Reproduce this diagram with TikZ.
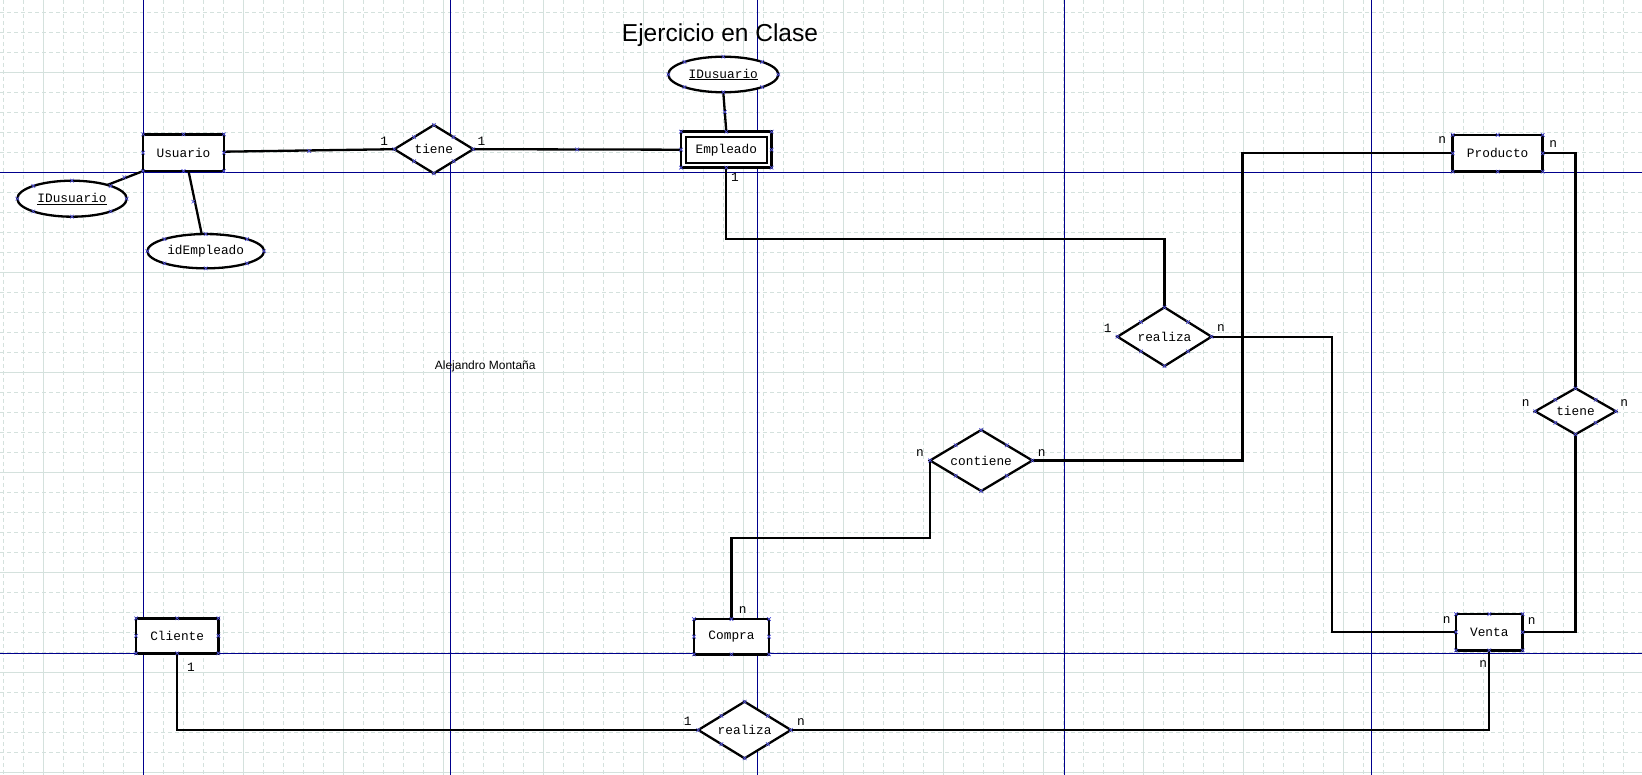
\documentclass[tikz,border=0pt]{standalone}
\usepackage{fontspec}
\setmainfont{Liberation Sans}
\newfontfamily\monof{Liberation Mono}
\usetikzlibrary{shapes.geometric,calc}
\definecolor{gridc}{RGB}{212,225,221}
\definecolor{pagec}{RGB}{0,0,140}
\definecolor{xc}{RGB}{80,80,215}
\newcommand\xmk[1]{\draw[xm] (#1) ++(-1.8,-1.8) -- ++(3.6,3.6) ++(-3.6,0) -- ++(3.6,-3.6);}
\begin{document}
\begin{tikzpicture}[x=1pt,y=-1pt,
  base/.style={font=\monof\fontsize{12.8}{14}\selectfont, inner sep=0pt, outer sep=0pt, text=black},
  ent/.style={base, draw, line width=2.5pt, rectangle, fill=white},
  attr/.style={base, draw, line width=2.3pt, ellipse, fill=white},
  rel/.style={base, draw, line width=2.3pt, diamond, fill=white},
  conn/.style={line width=2.3pt, line join=miter},
  card/.style={base},
  xm/.style={draw=xc, line width=0.7pt}]
\fill[white] (0,0) rectangle (1642,775);
\useasboundingbox (0,0) rectangle (1642,775);
% grid
\foreach \k in {0,...,82} \draw[gridc, line width=0.9pt, dash pattern=on 4pt off 3pt] ({3.3+20*\k},0) -- ({3.3+20*\k},775);
\foreach \k in {0,...,38} \draw[gridc, line width=0.9pt, dash pattern=on 4pt off 3pt] (0,{12.3+20*\k}) -- (1642,{12.3+20*\k});
\foreach \k in {0,...,15} \draw[gridc, line width=1pt] ({43.3+100*\k},0) -- ({43.3+100*\k},775);
\foreach \k in {0,...,7} \draw[gridc, line width=1pt] (0,{72.3+100*\k}) -- (1642,{72.3+100*\k});
% page breaks
\foreach \x in {143.3,450.3,757.3,1064.3,1371.3} \draw[pagec, line width=1pt] (\x,0) -- (\x,775);
\foreach \y in {172.3,653.8} \draw[pagec, line width=1pt] (0,\y) -- (1642,\y);

% texts
\node[anchor=base, font=\fontsize{24.5}{28}\selectfont] (title) at (720,41.7) {Ejercicio en Clase};
\node[anchor=base, font=\fontsize{12}{14}\selectfont] (author) at (485.2,370) {Alejandro Montaña};

% shapes
\node[ent, minimum width=80.7pt, minimum height=36.7pt] (usuario) at (183.5,152.7) {Usuario};
\node[attr, minimum width=109.4pt, minimum height=36pt] (idu1) at (72,198.7) {\underline{IDusuario}};
\node[attr, minimum width=116.7pt, minimum height=34.3pt] (idemp) at (205.7,251.2) {idEmpleado};
\node[rel, minimum width=79pt, minimum height=48.3pt, aspect=1.64] (tiene1) at (433.8,149.2) {tiene};
\node[ent, minimum width=90.7pt, minimum height=36pt] (empleado) at (726.3,149.7) {Empleado};
\draw[line width=2.3pt] ([xshift=4.7pt,yshift=-5pt]empleado.north west) rectangle ([xshift=-5pt,yshift=5pt]empleado.south east);
\node[attr, minimum width=110pt, minimum height=35.6pt] (idu2) at (723.3,74.5) {\underline{IDusuario}};
\node[rel, minimum width=94pt, minimum height=58.7pt, aspect=1.6] (realiza1) at (1164.5,336.7) {realiza};
\node[ent, minimum width=90pt, minimum height=36.7pt] (producto) at (1497.7,153.3) {Producto};
\node[rel, minimum width=80.7pt, minimum height=46pt, aspect=1.75] (tiene2) at (1575.5,411.3) {tiene};
\node[rel, minimum width=102.3pt, minimum height=61pt, aspect=1.68] (contiene) at (981.2,460.5) {contiene};
\node[ent, minimum width=75pt, minimum height=35.3pt] (compra) at (731.5,636.7) {Compra};
\node[ent, minimum width=66.7pt, minimum height=36.3pt] (venta) at (1489.3,632.2) {Venta};
\node[ent, minimum width=82.3pt, minimum height=35pt] (cliente) at (177.2,635.8) {Cliente};
\node[rel, minimum width=92.7pt, minimum height=56.6pt, aspect=1.6] (realiza2) at (744.6,730) {realiza};

% connectors
\draw[conn] ([yshift=1pt]usuario.east) -- (tiene1.west);
\draw[conn] (tiene1.east) -- (empleado.west);
\draw[conn] (idu2.south) -- (empleado.north);
\draw[conn] (usuario.south west) -- (idu1);
\draw[conn] ([xshift=5pt]usuario.south) -- ([xshift=-4pt]idemp.north);
\draw[conn] (empleado.south) -- ++(0,71) -| (realiza1.north);
\draw[conn] (realiza1.east) -- ++(120.8,0) |- (venta.west);
\draw[conn] (contiene.east) -- ++(210,0) |- (producto.west);
\draw[conn] (contiene.west) -- ++(0,77.8) -| (compra.north);
\draw[conn] (producto.east) -| (tiene2.north);
\draw[conn] (tiene2.south) |- (venta.east);
\draw[conn] (cliente.south) |- (realiza2.west);
\draw[conn] (realiza2.east) -| (venta.south);

% cardinalities
\node[card] (c1) at (384.3,141.7) {1};
\node[card] (c2) at (481.5,141.7) {1};
\node[card] (c3) at (735,177.3) {1};
\node[card] (c4) at (1107.7,328.3) {1};
\node[card] (c5) at (1221,328.3) {n};
\node[card] (c6) at (1442.3,140) {n};
\node[card] (c7) at (1553.3,144.3) {n};
\node[card] (c8) at (1525.7,403.3) {n};
\node[card] (c9) at (1624.3,403.3) {n};
\node[card] (c10) at (920,452.7) {n};
\node[card] (c11) at (1041.7,452.7) {n};
\node[card] (c12) at (742.7,610) {n};
\node[card] (c13) at (1446.7,620) {n};
\node[card] (c14) at (1531.7,621) {n};
\node[card] (c15) at (1483.3,664) {n};
\node[card] (c16) at (191,667.7) {1};
\node[card] (c17) at (687.7,721.7) {1};
\node[card] (c18) at (801,721.7) {n};

% connection points
\foreach \n in {usuario,empleado,producto,compra,venta,cliente,idu1,idu2,idemp}
  \foreach \a in {north west,north,north east,east,south east,south,south west,west}
    {\xmk{\n.\a}}
\foreach \n in {tiene1,tiene2,realiza1,realiza2,contiene}
  {\xmk{\n.north}\xmk{\n.east}\xmk{\n.south}\xmk{\n.west}
   \xmk{$(\n.north)!0.5!(\n.east)$}\xmk{$(\n.east)!0.5!(\n.south)$}
   \xmk{$(\n.south)!0.5!(\n.west)$}\xmk{$(\n.west)!0.5!(\n.north)$}}
\xmk{$(usuario.east)!0.5!(tiene1.west)$}
\xmk{$(tiene1.east)!0.5!(empleado.west)$}
\xmk{$(idu2.south)!0.5!(empleado.north)$}
\xmk{124.3,177.3}
\xmk{193.3,201.7}
\end{tikzpicture}
\end{document}
